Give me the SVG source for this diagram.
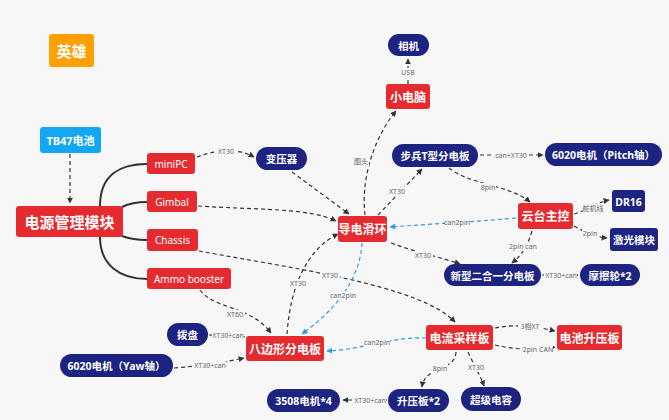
<svg xmlns="http://www.w3.org/2000/svg" width="669" height="420" viewBox="0 0 669 420">
<defs>
<marker id="ah" viewBox="0 0 10 10" refX="9" refY="5" markerWidth="5" markerHeight="5" orient="auto"><path d="M0,0 L10,5 L0,10 z" fill="#333"/></marker>
<marker id="ahb" viewBox="0 0 10 10" refX="9" refY="5" markerWidth="5" markerHeight="5" orient="auto"><path d="M0,0 L10,5 L0,10 z" fill="#2F9BE0"/></marker>
<style>
text{font-family:"Noto Sans","Noto Sans CJK SC",sans-serif;text-anchor:middle;dominant-baseline:central}
.navy{fill:#1D2380}
.red{fill:#E52B30}
.nt{fill:#fff;font-size:10.5px;font-weight:bold}
.rt{fill:#fff;font-size:12px;font-weight:bold}
.st{fill:#fff;font-size:10px}
.br{fill:none;stroke:#333;stroke-width:2}
.dl{fill:none;stroke:#333;stroke-width:1.2;stroke-dasharray:4 3;marker-end:url(#ah)}
.dn{fill:none;stroke:#333;stroke-width:1.2;stroke-dasharray:4 3}
.bl{fill:none;stroke:#2F9BE0;stroke-width:1.2;stroke-dasharray:4 3;marker-end:url(#ahb)}
.lb{fill:#666;font-size:7px;font-weight:normal}
.lbg{fill:#F7F7F7}
</style>
</defs>
<rect width="669" height="420" fill="#F7F7F7"/>
<g id="connectors">
<path class="br" d="M100,206 C100,175 120,164 147,164"/>
<path class="br" d="M122,207 C130,203 138,202 147,202"/>
<path class="br" d="M122,236 C130,239 138,240 147,240"/>
<path class="br" d="M100,237 C100,265 120,279 147,279"/>
<path class="dl" d="M70,154 L70,203"/>
<path class="dl" d="M197,157 C210,152 235,146 254,157"/>
<path class="dl" d="M292,172 L349,214"/>
<path class="dl" d="M198,206 C260,210 310,208 336,221"/>
<path class="dl" d="M199,251 C290,268 420,285 455,322"/>
<path class="dl" d="M200,290 C215,310 250,305 271,333"/>
<path class="dn" d="M209,335 L245,337"/>
<path class="dl" d="M174,368 C200,366 225,362 244,358"/>
<path class="dl" d="M287,334 C290,290 305,250 338,234"/>
<path class="bl" d="M362,243 C360,280 335,310 302,334"/>
<path class="bl" d="M426,338 C395,336 360,350 327,351"/>
<path class="dl" d="M365,215 C360,170 380,130 396,111"/>
<path class="dl" d="M408,84 L408,59"/>
<path class="dl" d="M378,215 L422,169"/>
<path class="dl" d="M480,155 L543,155"/>
<path class="dl" d="M449,168 C470,185 510,185 530,202"/>
<path class="bl" d="M516,218 C470,222 430,224 390,227"/>
<path class="dl" d="M574,214 C588,210 598,202 609,200"/>
<path class="dl" d="M574,226 C585,232 595,237 607,238"/>
<path class="dl" d="M532,231 C528,245 522,255 512,263"/>
<path class="dl" d="M391,243 C415,252 440,257 460,264"/>
<path class="dl" d="M542,275 L578,275"/>
<path class="dl" d="M495,328 C515,324 535,326 555,331"/>
<path class="dl" d="M495,345 C515,350 535,350 555,347"/>
<path class="dl" d="M456,352 C455,372 425,365 422,387"/>
<path class="dl" d="M468,352 C474,365 480,375 484,386"/>
<path class="dl" d="M387,400 L343,400"/>
<g>
<rect class="lbg" x="216" y="147" width="20" height="8"/><text class="lb" x="226" y="151">XT30</text>
<rect class="lbg" x="320" y="270" width="20" height="9"/><text class="lb" x="330" y="275">XT30</text>
<rect class="lbg" x="225" y="310" width="20" height="9"/><text class="lb" x="235" y="314">XT60</text>
<rect class="lbg" x="212" y="330" width="32" height="9"/><text class="lb" x="228" y="335">XT30+can</text>
<rect class="lbg" x="194" y="361" width="32" height="9"/><text class="lb" x="210" y="365">XT30+can</text>
<rect class="lbg" x="288" y="279" width="20" height="9"/><text class="lb" x="298" y="283">XT30</text>
<rect class="lbg" x="331" y="291" width="25" height="9"/><text class="lb" x="343" y="295">can2pin</text>
<rect class="lbg" x="365" y="338" width="25" height="9"/><text class="lb" x="377" y="342">can2pin</text>
<rect class="lbg" x="353" y="157" width="16" height="9"/><text class="lb" x="361" y="161">图头</text>
<rect class="lbg" x="400" y="68" width="16" height="9"/><text class="lb" x="408" y="72">USB</text>
<rect class="lbg" x="387" y="187" width="20" height="9"/><text class="lb" x="397" y="191">XT30</text>
<rect class="lbg" x="494" y="151" width="34" height="9"/><text class="lb" x="511" y="155">can+XT30</text>
<rect class="lbg" x="480" y="183" width="16" height="9"/><text class="lb" x="488" y="187">8pin</text>
<rect class="lbg" x="445" y="218" width="25" height="9"/><text class="lb" x="457" y="222">can2pin</text>
<rect class="lbg" x="583" y="204" width="20" height="9"/><text class="lb" x="593" y="208">舵机线</text>
<rect class="lbg" x="582" y="229" width="16" height="9"/><text class="lb" x="590" y="233">2pin</text>
<rect class="lbg" x="509" y="242" width="28" height="9"/><text class="lb" x="523" y="246">2pin can</text>
<rect class="lbg" x="413" y="251" width="20" height="9"/><text class="lb" x="423" y="255">XT30</text>
<rect class="lbg" x="544" y="271" width="33" height="9"/><text class="lb" x="561" y="275">XT30+can</text>
<rect class="lbg" x="518" y="322" width="24" height="9"/><text class="lb" x="530" y="326">3相XT</text>
<rect class="lbg" x="523" y="345" width="30" height="9"/><text class="lb" x="538" y="349">2pin CAN</text>
<rect class="lbg" x="432" y="364" width="16" height="9"/><text class="lb" x="440" y="368">8pin</text>
<rect class="lbg" x="466" y="363" width="20" height="9"/><text class="lb" x="476" y="367">XT30</text>
<rect class="lbg" x="354" y="396" width="32" height="9"/><text class="lb" x="370" y="400">XT30+can</text>
</g>
</g>
<g id="n-hero"><rect x="49" y="34" width="45" height="33" rx="3" fill="#FF9F00"/><text x="71.5" y="51" fill="#fff" font-size="15" font-weight="bold">英雄</text></g>
<g id="n-tb47"><rect x="40" y="127" width="61" height="26" rx="3" fill="#12A7F0"/><text x="70.5" y="140.5" fill="#fff" font-size="11" font-weight="bold">TB47电池</text></g>
<g id="n-power"><rect class="red" x="16" y="206" width="107" height="31" rx="3"/><text x="69.5" y="222" fill="#fff" font-size="15" font-weight="bold">电源管理模块</text></g>
<g id="n-minipc"><rect class="red" x="147" y="153" width="48" height="21" rx="3"/><text class="st" x="171" y="164">miniPC</text></g>
<g id="n-gimbal"><rect class="red" x="147" y="191" width="50" height="21" rx="3"/><text class="st" x="172" y="202">Gimbal</text></g>
<g id="n-chassis"><rect class="red" x="147" y="229" width="51" height="22" rx="3"/><text class="st" x="172.5" y="240">Chassis</text></g>
<g id="n-ammo"><rect class="red" x="147" y="268" width="84" height="21" rx="3"/><text class="st" x="189" y="279">Ammo booster</text></g>
<g id="n-transformer"><rect class="navy" x="256" y="147" width="51" height="23" rx="11.5"/><text class="nt" x="281.5" y="159">变压器</text></g>
<g id="n-camera"><rect class="navy" x="388" y="34" width="41" height="22" rx="11"/><text class="nt" x="408.5" y="45.5">相机</text></g>
<g id="n-minicomp"><rect class="red" x="386" y="84" width="44" height="25" rx="3"/><text class="rt" x="408" y="97">小电脑</text></g>
<g id="n-tboard"><rect class="navy" x="392" y="144" width="86" height="23" rx="11.5"/><text class="nt" x="435" y="156">步兵T型分电板</text></g>
<g id="n-pitch"><rect class="navy" x="545" y="143" width="117" height="23" rx="11.5"/><text class="nt" x="603.5" y="155">6020电机（Pitch轴）</text></g>
<g id="n-gimbalctrl"><rect class="red" x="518" y="203" width="55" height="26" rx="3"/><text class="rt" x="545.5" y="216.5">云台主控</text></g>
<g id="n-dr16"><rect class="navy" x="612" y="190" width="33" height="22" rx="3"/><text class="nt" x="628.5" y="201.5">DR16</text></g>
<g id="n-laser"><rect class="navy" x="610" y="228" width="48" height="23" rx="3"/><text class="nt" x="634" y="240">激光模块</text></g>
<g id="n-slipring"><rect class="red" x="338" y="216" width="49" height="26" rx="3"/><text class="rt" x="362.5" y="229.5">导电滑环</text></g>
<g id="n-newboard"><rect class="navy" x="444" y="264" width="97" height="22" rx="11"/><text class="nt" x="492.5" y="275.5">新型二合一分电板</text></g>
<g id="n-friction"><rect class="navy" x="580" y="264" width="60" height="22" rx="11"/><text class="nt" x="610" y="275.5">摩擦轮*2</text></g>
<g id="n-dial"><rect class="navy" x="167" y="323" width="41" height="23" rx="11.5"/><text class="nt" x="187.5" y="335">拨盘</text></g>
<g id="n-yaw"><rect class="navy" x="60" y="354" width="113" height="23" rx="11.5"/><text class="nt" x="116.5" y="366">6020电机（Yaw轴）</text></g>
<g id="n-octagon"><rect class="red" x="246" y="336" width="78" height="25" rx="3"/><text class="rt" x="285" y="349">八边形分电板</text></g>
<g id="n-current"><rect class="red" x="426" y="325" width="67" height="25" rx="3"/><text class="rt" x="459.5" y="338">电流采样板</text></g>
<g id="n-battboost"><rect class="red" x="557" y="325" width="65" height="25" rx="3"/><text class="rt" x="589.5" y="338">电池升压板</text></g>
<g id="n-3508"><rect class="navy" x="267" y="389" width="73" height="23" rx="11.5"/><text class="nt" x="303.5" y="401">3508电机*4</text></g>
<g id="n-boost2"><rect class="navy" x="388" y="389" width="61" height="23" rx="11.5"/><text class="nt" x="418.5" y="401">升压板*2</text></g>
<g id="n-supercap"><rect class="navy" x="461" y="387" width="60" height="24" rx="12"/><text class="nt" x="491" y="399.5">超级电容</text></g>
</svg>
